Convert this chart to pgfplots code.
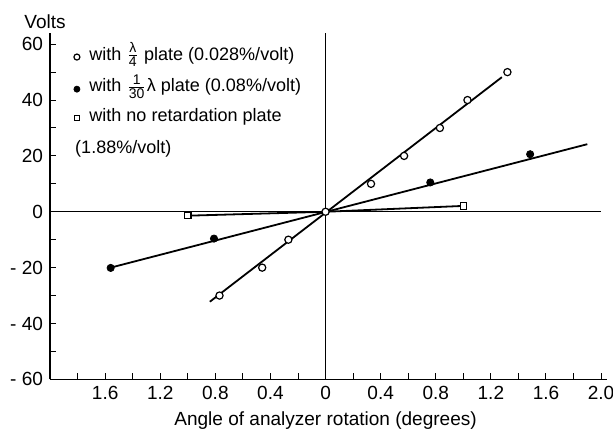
\documentclass[border=0pt]{standalone}
\usepackage{fontspec}
\setmainfont{Liberation Sans}
\usepackage{pgfplots}
\pgfplotsset{compat=1.18}
\newcommand{\lblfont}{\fontsize{9.5}{11}\selectfont}
\newcommand{\legfont}{\fontsize{9}{11}\selectfont}
\newcommand{\tfrac}[2]{$\frac{\mbox{\scriptsize #1}}{\mbox{\scriptsize #2}}$}
\begin{document}
\begin{tikzpicture}
\begin{axis}[
  scale only axis, width=278pt, height=173pt,
  xmin=-2, xmax=2.04, ymin=-60, ymax=64,
  axis lines=left, axis line style={-, line width=0.6pt},
  tick align=inside, tick style={black, line width=0.5pt},
  major tick length=3pt, minor tick length=3pt,
  xtick={-1.6,-1.2,-0.8,-0.4,0,0.4,0.8,1.2,1.6,2.0},
  xticklabels={1.6,1.2,0.8,0.4,0,0.4,0.8,1.2,1.6,2.0},
  minor xtick={-1.8,-1.4,-1.0,-0.6,-0.2,0.2,0.6,1.0,1.4,1.8},
  ytick={-60,-40,-20,0,20,40,60},
  yticklabels={- 60,- 40,- 20,0,20,40,60},
  minor ytick={-50,-30,-10,10,30,50},
  tick label style={font=\lblfont},
  xlabel={Angle of analyzer rotation (degrees)},
  xlabel style={at={(axis cs:0,-60)}, anchor=center, yshift=-20.5pt, font=\lblfont},
  clip=false,
]
% zero lines
\addplot[line width=0.6pt, mark=none] coordinates {(-2,0) (2.0,0)};
\addplot[line width=0.6pt, mark=none] coordinates {(0,-60) (0,64)};
% fitted lines
\addplot[line width=0.9pt, mark=none] coordinates {(-0.84,-32.2) (1.28,48.2)};
\addplot[line width=0.9pt, mark=none] coordinates {(-1.56,-20.0) (1.90,24.2)};
\addplot[line width=0.9pt, mark=none] coordinates {(-1.0,-1.4) (0,0) (1.0,2.1)};
% lambda/4 plate
\addplot[only marks, mark=*, mark size=1.8pt, mark options={fill=white, draw=black, line width=0.6pt}]
  coordinates {(-0.77,-30) (-0.46,-20) (-0.27,-10) (0,0) (0.33,10) (0.57,20) (0.83,30) (1.03,40) (1.32,50)};
% 1/30 lambda plate
\addplot[only marks, mark=*, mark size=1.8pt, mark options={fill=black, draw=black}]
  coordinates {(-1.56,-20.1) (-0.81,-9.6) (0.76,10.5) (1.485,20.6)};
% no retardation plate
\addplot[only marks, mark=square*, mark size=1.6pt, mark options={fill=white, draw=black, line width=0.6pt}]
  coordinates {(-1.0,-1.4) (1.0,2.1)};
% legend
\addplot[only marks, mark=*, mark size=1.5pt, mark options={fill=white, draw=black, line width=0.6pt}]
  coordinates {(-1.805,55.4)};
\addplot[only marks, mark=*, mark size=1.5pt, mark options={fill=black, draw=black}]
  coordinates {(-1.805,43.9)};
\addplot[only marks, mark=square*, mark size=1.3pt, mark options={fill=white, draw=black, line width=0.6pt}]
  coordinates {(-1.805,33.6)};
\node[anchor=base west, inner sep=0pt, font=\legfont] at (axis cs:-1.717,54.3)
  {with \tfrac{λ}{4} plate (0.028\%/volt)};
\node[anchor=base west, inner sep=0pt, font=\legfont] at (axis cs:-1.717,42.9)
  {with \tfrac{1}{30}λ plate (0.08\%/volt)};
\node[anchor=base west, inner sep=0pt, font=\legfont] at (axis cs:-1.717,32.5)
  {with no retardation plate};
\node[anchor=base west, inner sep=0pt, font=\legfont] at (axis cs:-1.82,20.9)
  {(1.88\%/volt)};
\node[font=\lblfont, inner sep=0pt] at (rel axis cs:0,1) [xshift=-2.5pt, yshift=5.5pt] {Volts};
\end{axis}
\pgfresetboundingbox
\path ([shift={(-25pt,-24.5pt)}]current axis.south west) rectangle ([shift={(3.2pt,16.5pt)}]current axis.north east);
\end{tikzpicture}
\end{document}
